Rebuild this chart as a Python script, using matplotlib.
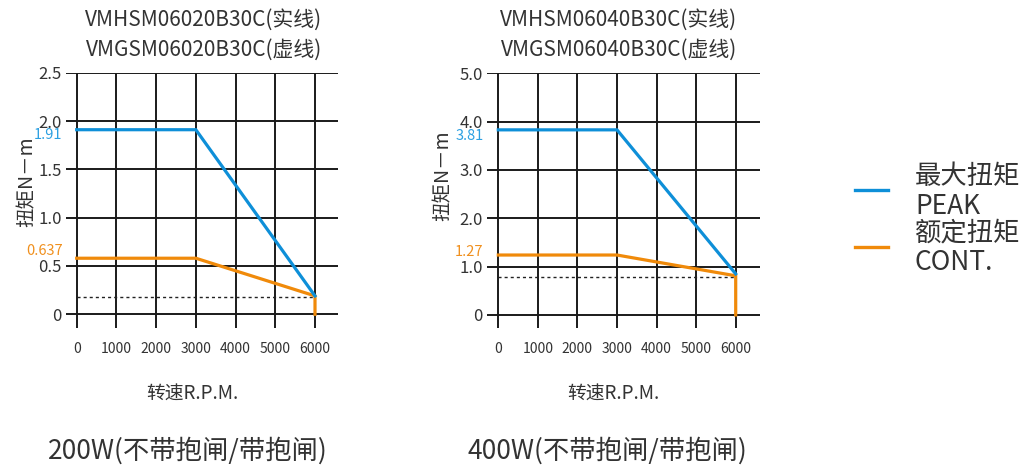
import matplotlib
matplotlib.use("Agg")
import matplotlib.pyplot as plt

plt.rcParams['font.family'] = ['Noto Sans CJK SC', 'DejaVu Sans']

W, H = 1032, 468
TXT = '#333333'
GRID = '#1a1a1a'
BLUE = '#0e8fd8'
ORANGE = '#f08a0a'
BLUE_T = '#2ca0e2'
ORANGE_T = '#f0901e'

# ---------------- data ----------------
speed_ticks = [0, 1000, 2000, 3000, 4000, 5000, 6000]
speed_labels = ['0', '1000', '2000', '3000', '4000', '5000', '6000']

# 200W
a_peak_x = [0, 3000, 6000]
a_peak_y = [1.91, 1.91, 0.19]
a_cont_x = [0, 3000, 6000, 6000]
a_cont_y = [0.58, 0.58, 0.19, 0.0]
a_dot_y = 0.18
a_yticks = [0, 0.5, 1.0, 1.5, 2.0, 2.5]
a_ylabels = ['0', '0.5', '1.0', '1.5', '2.0', '2.5']
a_peak_label, a_peak_label_y = '1.91', 1.86
a_cont_label, a_cont_label_y = '0.637', 0.66
a_titles = ['VMHSM06020B30C(实线)', 'VMGSM06020B30C(虚线)']
a_caption = '200W(不带抱闸/带抱闸)'

# 400W
b_peak_x = [0, 3000, 6000]
b_peak_y = [3.83, 3.83, 0.85]
b_cont_x = [0, 3000, 6000, 6000]
b_cont_y = [1.24, 1.24, 0.81, 0.0]
b_dot_y = 0.79
b_yticks = [0, 1.0, 2.0, 3.0, 4.0, 5.0]
b_ylabels = ['0', '1.0', '2.0', '3.0', '4.0', '5.0']
b_peak_label, b_peak_label_y = '3.81', 3.70
b_cont_label, b_cont_label_y = '1.27', 1.30
b_titles = ['VMHSM06040B30C(实线)', 'VMGSM06040B30C(虚线)']
b_caption = '400W(不带抱闸/带抱闸)'

fig = plt.figure(figsize=(W / 100, H / 100), dpi=100)


def px_axes(left, top, right, bottom):
    return fig.add_axes([left / W, 1 - bottom / H, (right - left) / W, (bottom - top) / H])


def panel(box, xlim, ylim, peak_x, peak_y, cont_x, cont_y, dot_y, yticks, ylabels,
          peak_label, peak_label_y, cont_label, cont_label_y, titles, caption,
          title_cx, ylabel_x, ylabel_y, xlabel_cx, caption_cx):
    ax = px_axes(*box)
    ax.set_xlim(*xlim)
    ax.set_ylim(*ylim)
    for s in ax.spines.values():
        s.set_visible(False)
    ax.patch.set_alpha(0)
    # grid
    ax.hlines(yticks, xlim[0], xlim[1], color=GRID, lw=1.4, zorder=1)
    ax.vlines(speed_ticks, ylim[0], ylim[1], color=GRID, lw=1.4, zorder=1)
    # data
    ax.plot([0, 6000], [dot_y, dot_y], color='#222222', lw=1.0,
            linestyle=(0, (2.2, 2.2)), zorder=2)
    ax.plot(cont_x, cont_y, color=ORANGE, lw=2.3, zorder=3, solid_joinstyle='miter')
    ax.plot(peak_x, peak_y, color=BLUE, lw=2.3, zorder=4, solid_joinstyle='miter')
    # ticks
    ax.set_yticks(yticks)
    ax.set_yticklabels(ylabels, fontsize=12, color=TXT)
    ax.set_xticks(speed_ticks)
    ax.set_xticklabels(speed_labels, fontsize=10, color=TXT)
    ax.tick_params(axis='y', length=0, pad=3)
    ax.tick_params(axis='x', length=0, pad=10)
    # value labels
    ax.text(-0.012, peak_label_y, peak_label, transform=ax.get_yaxis_transform(),
            ha='right', va='center', fontsize=10.5, color=BLUE_T, zorder=5)
    ax.text(-0.012, cont_label_y, cont_label, transform=ax.get_yaxis_transform(),
            ha='right', va='center', fontsize=10.5, color=ORANGE_T, zorder=5)
    # y label
    fig.text(ylabel_x / W, 1 - ylabel_y / H, '扭矩N－m', rotation=90, ha='center',
             va='center', fontsize=14, color=TXT, zorder=0)
    # x label
    fig.text(xlabel_cx / W, 1 - 394 / H, '转速R.P.M.', ha='center', va='center',
             fontsize=13.5, color=TXT)
    # titles
    fig.text(title_cx / W, 1 - 20 / H, titles[0], ha='center', va='center',
             fontsize=15, color=TXT)
    fig.text(title_cx / W, 1 - 50 / H, titles[1], ha='center', va='center',
             fontsize=15, color=TXT)
    fig.text(caption_cx / W, 1 - 451 / H, caption, ha='center', va='center',
             fontsize=19, color=TXT)
    return ax


panel((66, 72.7, 338, 328), (-269, 6579), (-0.142, 2.5),
      a_peak_x, a_peak_y, a_cont_x, a_cont_y, a_dot_y, a_yticks, a_ylabels,
      a_peak_label, a_peak_label_y, a_cont_label, a_cont_label_y, a_titles, a_caption,
      title_cx=204, ylabel_x=27, ylabel_y=182, xlabel_cx=192, caption_cx=188)

panel((486.7, 73.3, 760, 328), (-293, 6614), (-0.27, 5.0),
      b_peak_x, b_peak_y, b_cont_x, b_cont_y, b_dot_y, b_yticks, b_ylabels,
      b_peak_label, b_peak_label_y, b_cont_label, b_cont_label_y, b_titles, b_caption,
      title_cx=619, ylabel_x=443, ylabel_y=176, xlabel_cx=613, caption_cx=607)

# legend
lax = fig.add_axes([0, 0, 1, 1])
lax.set_xlim(0, W)
lax.set_ylim(H, 0)
lax.axis('off')
lax.plot([855, 888], [190, 190], color=BLUE, lw=2.4)
lax.plot([855, 888], [247, 247], color=ORANGE, lw=2.4)
for txt, y in [('最大扭矩', 176), ('PEAK', 206), ('额定扭矩', 233), ('CONT.', 263)]:
    lax.text(915, y, txt, ha='left', va='center', fontsize=19, color=TXT)

fig.savefig('out.png', dpi=100)
